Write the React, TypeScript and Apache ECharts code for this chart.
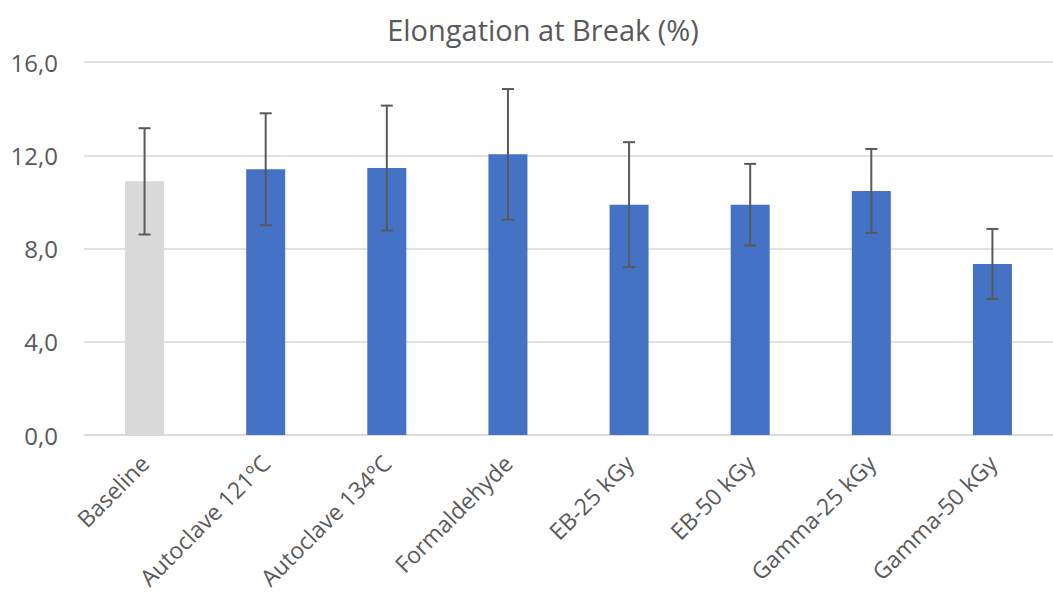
import React, { useEffect, useRef } from "react";
import * as echarts from "echarts";

const categories = [
  "Baseline",
  "Autoclave 121ºC",
  "Autoclave 134ºC",
  "Formaldehyde",
  "EB-25 kGy",
  "EB-50 kGy",
  "Gamma-25 kGy",
  "Gamma-50 kGy",
];
const means = [10.88, 11.4, 11.45, 12.04, 9.88, 9.88, 10.47, 7.34];
const errors = [2.28, 2.4, 2.68, 2.8, 2.68, 1.75, 1.8, 1.5];
const barColors = ["#d9d9d9", "#4472c4", "#4472c4", "#4472c4", "#4472c4", "#4472c4", "#4472c4", "#4472c4"];
const yTicks = { min: 0, max: 16, interval: 4 };
const title = "Elongation at Break (%)";

const FONT = "'Open Sans', 'Noto Sans', sans-serif";
const TEXT = "#595959";

export default function App() {
  const ref = useRef<HTMLDivElement>(null);
  useEffect(() => {
    if (!ref.current) return;
    const chart = echarts.init(ref.current, undefined, { renderer: "svg" });
    chart.setOption({
      animation: false,
      backgroundColor: "#ffffff",
      title: {
        text: title,
        left: 538,
        textAlign: "center",
        top: 10,
        textStyle: { fontFamily: FONT, fontSize: 29, fontWeight: "normal", color: TEXT },
      },
      grid: { left: 84, right: -13, top: 62, bottom: 157 },
      xAxis: {
        type: "category",
        data: categories,
        axisLine: { lineStyle: { color: "#d9d9d9", width: 1.5 } },
        axisTick: { show: false },
        axisLabel: {
          rotate: 45,
          interval: 0,
          margin: 24,
          color: TEXT,
          fontFamily: FONT,
          fontSize: 23,
        },
      },
      yAxis: {
        type: "value",
        min: yTicks.min,
        max: yTicks.max,
        interval: yTicks.interval,
        axisLine: { show: false },
        axisTick: { show: false },
        splitLine: { lineStyle: { color: "#d9d9d9", width: 1.5 } },
        axisLabel: {
          margin: 26,
          color: TEXT,
          fontFamily: FONT,
          fontSize: 24,
          formatter: (v: number) => v.toFixed(1).replace(".", ","),
        },
      },
      series: [
        {
          type: "bar",
          barWidth: 39,
          data: means.map((m, i) => ({ value: m, itemStyle: { color: barColors[i] } })),
        },
        {
          type: "custom",
          encode: { x: 0, y: [1, 2] },
          data: means.map((m, i) => [i, m - errors[i], m + errors[i]]),
          z: 10,
          renderItem: (params: any, api: any) => {
            const x = api.value(0);
            const pLo = api.coord([x, api.value(1)]);
            const pHi = api.coord([x, api.value(2)]);
            const half = 6;
            const style = { stroke: "#595959", lineWidth: 2 };
            return {
              type: "group",
              children: [
                { type: "line", shape: { x1: pHi[0], y1: pHi[1], x2: pLo[0], y2: pLo[1] }, style },
                { type: "line", shape: { x1: pHi[0] - half, y1: pHi[1], x2: pHi[0] + half, y2: pHi[1] }, style },
                { type: "line", shape: { x1: pLo[0] - half, y1: pLo[1], x2: pLo[0] + half, y2: pLo[1] }, style },
              ],
            };
          },
        },
      ],
    });
    return () => chart.dispose();
  }, []);
  return (
    <div
      ref={ref}
      style={{ position: "fixed", left: 0, top: 0, width: 1053, height: 592, background: "#fff" }}
    />
  );
}
